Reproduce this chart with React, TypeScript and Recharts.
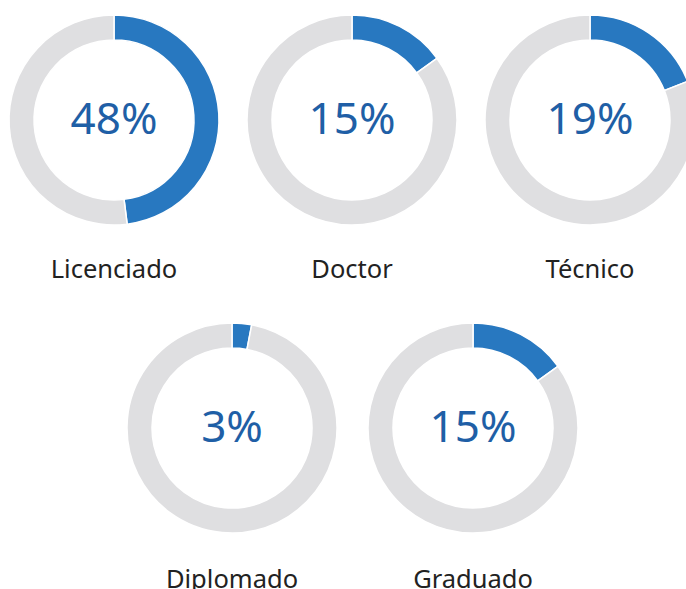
import React from 'react';
import { PieChart, Pie, Cell, Label } from 'recharts';

const categories = ['Licenciado', 'Doctor', 'Técnico', 'Diplomado', 'Graduado'];
const percentages = [48, 15, 19, 3, 15];

const centersX = [114, 352, 590, 232, 473];
const centersY = [120, 120, 120, 428, 428];

const BLUE = '#2878c0';
const GREY = '#dfdfe1';
const NUM = '#1f5fa6';
const FONT = '"Noto Sans", "Open Sans", sans-serif';

export default function App() {
  return (
    <div style={{ position: 'absolute', left: 0, top: 0, width: 686, height: 589, background: '#fff' }}>
      <PieChart width={686} height={589} margin={{ top: 0, right: 0, bottom: 0, left: 0 }}>
        {categories.map((cat, i) => {
          const data = [
            { name: cat, value: percentages[i] },
            { name: 'resto', value: 100 - percentages[i] },
          ];
          const cx = centersX[i];
          const cy = centersY[i];
          const labelOffset = i < 3 ? 158 : 160;
          return (
            <Pie
              key={cat}
              data={data}
              dataKey="value"
              cx={cx}
              cy={cy}
              innerRadius={80}
              outerRadius={105}
              startAngle={90}
              endAngle={-270}
              stroke="#ffffff"
              strokeWidth={1.5}
              isAnimationActive={false}
            >
              <Cell fill={BLUE} />
              <Cell fill={GREY} />
              <Label
                position="center"
                content={() => (
                  <g>
                    <text
                      x={cx}
                      y={cy + 14}
                      textAnchor="middle"
                      fontFamily={FONT}
                      fontSize={44}
                      fill={NUM}
                    >
                      {`${percentages[i]}%`}
                    </text>
                    <text
                      x={cx}
                      y={cy + labelOffset}
                      textAnchor="middle"
                      fontFamily={FONT}
                      fontSize={25.5}
                      fill="#222222"
                    >
                      {cat}
                    </text>
                  </g>
                )}
              />
            </Pie>
          );
        })}
      </PieChart>
    </div>
  );
}
